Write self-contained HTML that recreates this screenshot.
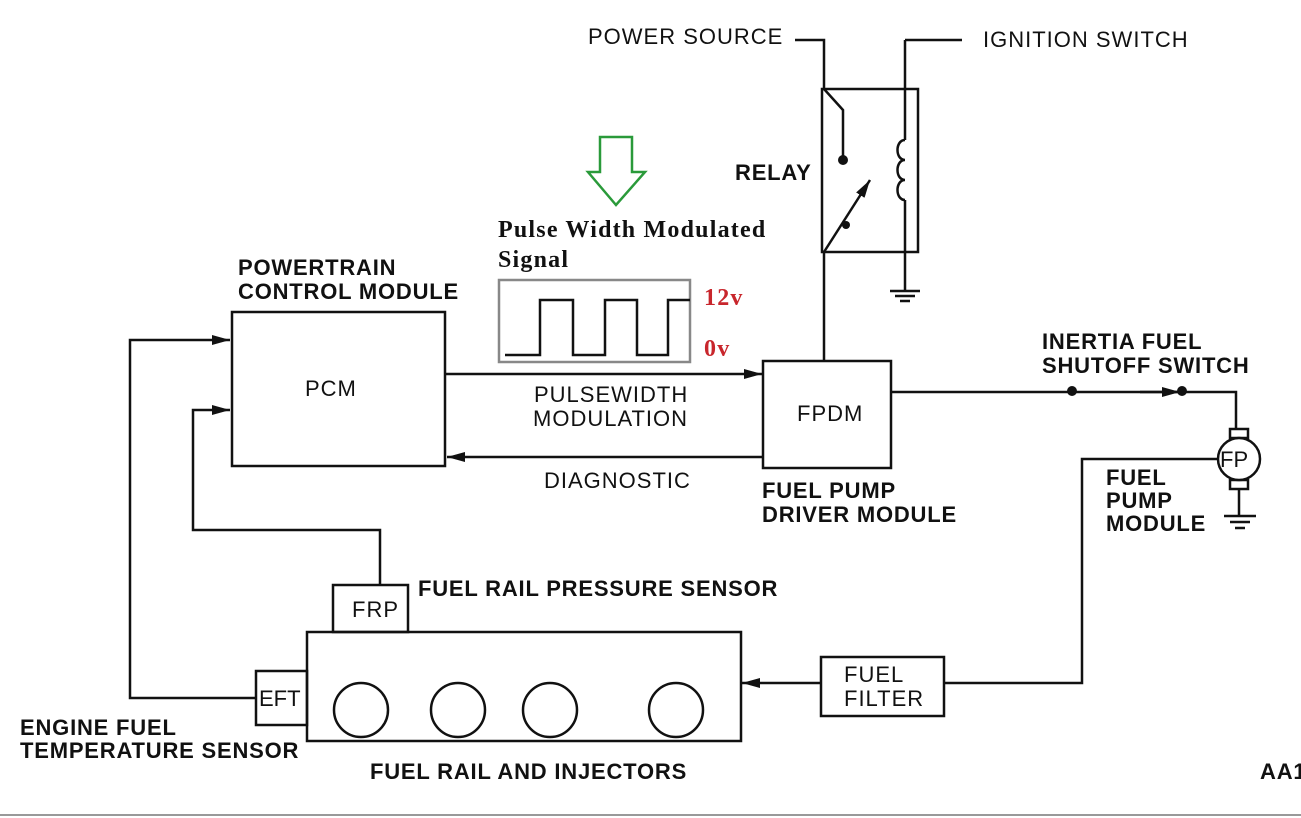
<!DOCTYPE html>
<html><head><style>
body{margin:0;background:#fff;}
svg{display:block;}
text{font-family:"Liberation Sans",Arial,sans-serif;font-weight:bold;font-size:22px;letter-spacing:0.8px;fill:#111;}
.n{font-weight:normal;letter-spacing:1px;}
.s{font-family:"Liberation Serif",serif;font-size:24px;letter-spacing:1.2px;}
</style></head><body>
<svg width="1301" height="818" viewBox="0 0 1301 818">
<defs>
<marker id="b" markerWidth="18" markerHeight="10" refX="18" refY="5" orient="auto" markerUnits="userSpaceOnUse"><path d="M0,0L18,5L0,10z" fill="#111"/></marker></defs>
<g stroke="#111" stroke-width="2.5" fill="none">
<rect x="822" y="89" width="96" height="163"/>
<path d="M795,40H824V89L843,110V160"/>
<path d="M905,40H962"/>
<path d="M905,40V140"/>
<path d="M905,140c-10,0-10,20,0,20c-10,0-10,20,0,20c-10,0-10,20,0,20"/>
<path d="M905,200V290"/>
<path d="M890,291H920M895,296H915M900,301H910"/>
<path d="M824,252L870,180" marker-end="url(#b)"/>
<path d="M824,252V360"/>
<rect x="232" y="312" width="213" height="154"/>
<rect x="763" y="361" width="128" height="107"/>
<path d="M445,374H762" marker-end="url(#b)"/>
<path d="M763,457H447" marker-end="url(#b)"/>
<path d="M891,392H1236V432"/>
<path d="M1140,392H1180" marker-end="url(#b)"/>
<path d="M1239,480V515M1224,516H1256M1230,522H1250M1235,528H1245"/>
<path d="M1219,459H1082V683H944"/>
<path d="M821,683H742" marker-end="url(#b)"/>
<rect x="821" y="657" width="123" height="59"/>
<rect x="307" y="632" width="434" height="109"/>
<circle cx="361" cy="710" r="27"/><circle cx="458" cy="710" r="27"/><circle cx="550" cy="710" r="27"/><circle cx="676" cy="710" r="27"/>
<rect x="333" y="585" width="75" height="47"/>
<rect x="256" y="671" width="51" height="54"/>
<path d="M380,585V530H193V410H230" marker-end="url(#b)"/>
<path d="M256,698H130V340H230" marker-end="url(#b)"/>
</g>
<circle cx="843" cy="160" r="5" fill="#111"/>
<circle cx="846" cy="225" r="4" fill="#111"/>
<circle cx="1072" cy="391" r="5" fill="#111"/>
<circle cx="1182" cy="391" r="5" fill="#111"/>
<rect x="1230" y="429" width="18" height="9" fill="#fff" stroke="#111" stroke-width="2.5"/>
<rect x="1230" y="480" width="18" height="9" fill="#fff" stroke="#111" stroke-width="2.5"/>
<circle cx="1239" cy="459" r="21" fill="#fff" stroke="#111" stroke-width="2.5"/>
<rect x="499" y="280" width="191" height="82" fill="none" stroke="#888" stroke-width="2.5"/>
<path d="M505,355H540V300H573V355H605V300H637V355H668V300H690" fill="none" stroke="#111" stroke-width="2.5"/>
<path d="M600,137H632V172H645L616,205L588,172H600Z" fill="none" stroke="#2a9a3a" stroke-width="2.5"/>
<text class="s" x="704" y="305" style="fill:#c8262c">12v</text>
<text class="s" x="704" y="356" style="fill:#c8262c">0v</text>
<text class="s" x="498" y="237">Pulse Width Modulated</text>
<text class="s" x="498" y="267">Signal</text>
<text class="n" x="588" y="44">POWER SOURCE</text>
<text class="n" x="983" y="47">IGNITION SWITCH</text>
<text class="n" x="305" y="396">PCM</text>
<text class="n" x="797" y="421">FPDM</text>
<text class="n" x="534" y="402">PULSEWIDTH</text>
<text class="n" x="533" y="426">MODULATION</text>
<text class="n" x="544" y="488">DIAGNOSTIC</text>
<text class="n" x="1220" y="467" style="letter-spacing:0">FP</text>
<text class="n" x="352" y="617">FRP</text>
<text class="n" x="259" y="706" style="letter-spacing:0">EFT</text>
<text class="n" x="844" y="682">FUEL</text>
<text class="n" x="844" y="706">FILTER</text>
<text x="735" y="180">RELAY</text>
<text x="238" y="275">POWERTRAIN</text>
<text x="238" y="299">CONTROL MODULE</text>
<text x="1042" y="349">INERTIA FUEL</text>
<text x="1042" y="373">SHUTOFF SWITCH</text>
<text x="762" y="498">FUEL PUMP</text>
<text x="762" y="522">DRIVER MODULE</text>
<text x="1106" y="485">FUEL</text>
<text x="1106" y="508">PUMP</text>
<text x="1106" y="531">MODULE</text>
<text x="418" y="596">FUEL RAIL PRESSURE SENSOR</text>
<text x="20" y="735">ENGINE FUEL</text>
<text x="20" y="758">TEMPERATURE SENSOR</text>
<text x="370" y="779">FUEL RAIL AND INJECTORS</text>
<text x="1260" y="779">AA1</text>
<line x1="0" y1="815" x2="1301" y2="815" stroke="#999" stroke-width="2"/>
</svg>
</body></html>
